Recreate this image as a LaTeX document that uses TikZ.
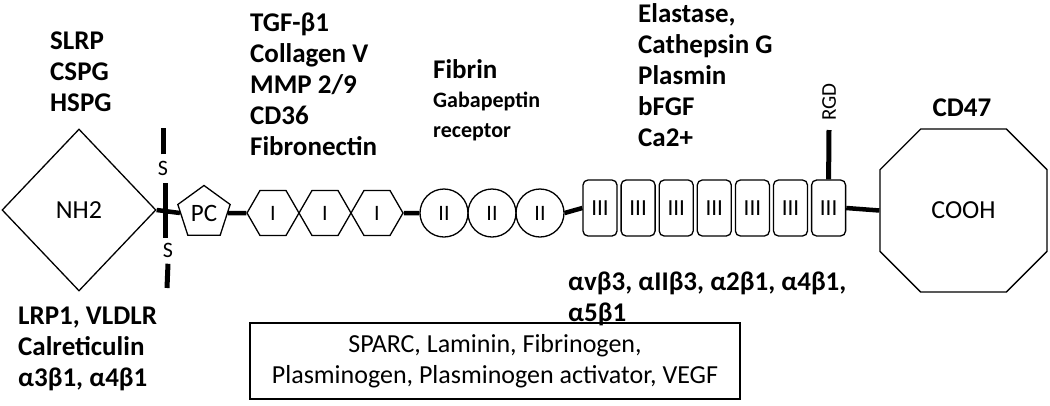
\documentclass[tikz,border=0pt]{standalone}
\usepackage{fontspec}
\setmainfont{Carlito}
\usetikzlibrary{shapes.geometric, shapes.misc, positioning}

\begin{document}
\begin{tikzpicture}[x=1pt, y=-1pt, font=\fontsize{22}{28}\selectfont,
  dom/.style={draw, line width=1.3pt, inner sep=0pt},
  chain/.style={line width=4.5pt},
  bar/.style={line width=5pt},
  lbl/.style={font=\bfseries\fontsize{27}{31}\selectfont, align=left, anchor=north west, inner sep=0pt}]
\useasboundingbox (0,0) rectangle (1050,405);
% N-terminal domain and disulfide bonds
\node[dom, diamond, minimum width=154pt, minimum height=162pt, aspect=0.95, font=\fontsize{26}{28}\selectfont] (nh) at (79,210) {NH2};
\node (s1) at (163,168) {S};
\node (s2) at (168,250) {S};
\draw[bar] (s1.north) ++(0,-3) -- (163,128);
\draw[bar] (165,183) -- (165,238);
\draw[bar] (s2.south) ++(0,3) -- (167,288);
\node[dom, regular polygon, regular polygon sides=5, minimum size=55pt, font=\fontsize{25}{28}\selectfont] (pc) at (204,213) {PC};
% type I, II and III repeats
\foreach \i/\x in {1/273,2/325,3/377}
  \node[dom, regular polygon, regular polygon sides=6, minimum size=52pt] (h\i) at (\x,213) {I};
\foreach \i/\x in {1/444,2/492,3/540}
  \node[dom, circle, minimum size=48pt] (c\i) at (\x,213) {II};
\foreach \i in {1,...,7}
  \node[dom, rectangle, rounded corners=5pt, minimum width=34pt, minimum height=56pt, font=\fontsize{23}{28}\selectfont] (r\i) at ({600+38.1*(\i-1)},208) {III};
\node[dom, chamfered rectangle, chamfered rectangle xsep=38pt, chamfered rectangle ysep=38pt, minimum width=167pt, minimum height=163pt, font=\fontsize{26}{28}\selectfont] (oc) at (963.5,210.5) {COOH};
% backbone
\draw[chain] (nh.east) -- (pc.west);
\draw[chain] (pc.east) -- (h1.west);
\draw[chain] (h3.east) -- (c1.west);
\draw[chain] (c3.east) -- (r1.west);
\draw[chain] (r7.east) -- (oc.west);
\coordinate (rgd) at (829,130);
\draw[bar] (r7.north) -- (rgd);
\node[rotate=90, anchor=west, inner sep=0pt, font=\fontsize{21}{24}\selectfont] at (829,121) {RGD};
% binding partners
\node[lbl] (pg) at (50,32) {SLRP\\CSPG\\HSPG};
\node[lbl] (t1) at (250,13) {TGF-β1\\Collagen V\\MMP 2/9\\CD36\\Fibronectin};
\node[lbl] (fib) at (433,59) {Fibrin};
\node[lbl, font=\bfseries\fontsize{22}{30}\selectfont] (gab) at (433,92) {Gabapeptin\\receptor};
\node[lbl] (ela) at (638,3) {Elastase,\\Cathepsin G\\Plasmin\\bFGF\\Ca2+};
\node[lbl, anchor=north] (cd) at (962,99) {CD47};
\node[lbl] (itg) at (568,272) {αvβ3, αIIβ3, α2β1, α4β1,\\α5β1};
\node[lbl] (lrp) at (18,307) {LRP1, VLDLR\\Calreticulin\\α3β1, α4β1};
\node[draw, line width=1.3pt, minimum width=490pt, minimum height=76pt, align=center, font=\fontsize{26}{31}\selectfont] (box) at (495,361) {SPARC, Laminin, Fibrinogen,\\Plasminogen, Plasminogen activator, VEGF};
\end{tikzpicture}
\end{document}
